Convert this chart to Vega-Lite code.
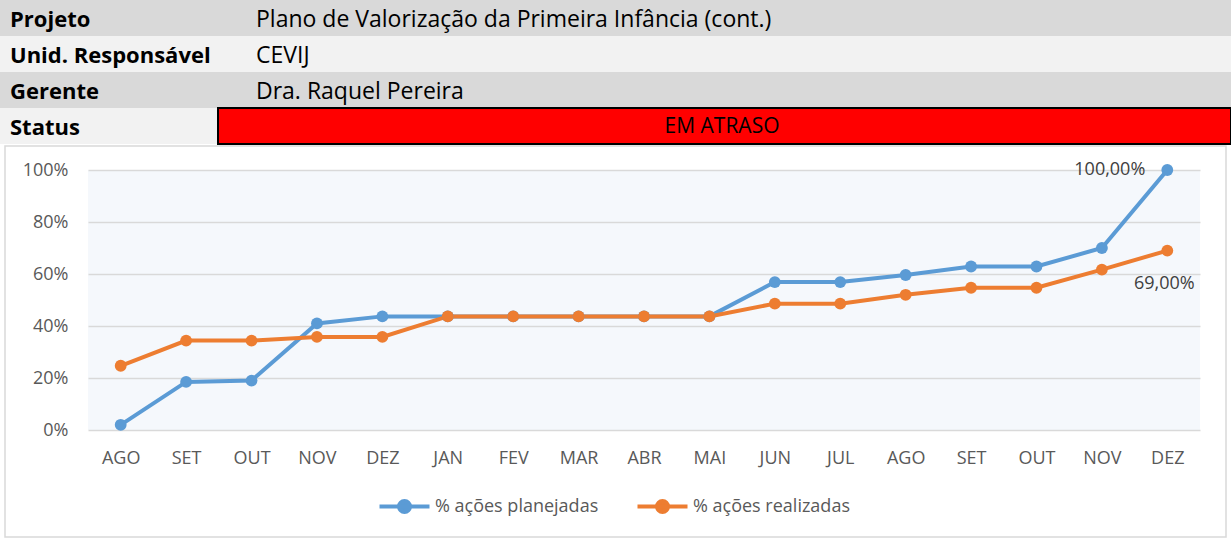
{
  "$schema": "https://vega.github.io/schema/vega-lite/v6.json",
  "padding": 0,
  "background": "white",
  "spacing": 0,
  "config": {
    "font": "Open Sans",
    "view": {"stroke": null},
    "locale": {"number": {"decimal": ",", "thousands": ".", "grouping": [3], "currency": ["R$ ", ""]}}
  },
  "datasets": {
    "info": [
      {"campo": "Projeto", "valor": "Plano de Valorização da Primeira Infância (cont.)"},
      {"campo": "Unid. Responsável", "valor": "CEVIJ"},
      {"campo": "Gerente", "valor": "Dra. Raquel Pereira"},
      {"campo": "Status", "valor": "EM ATRASO"}
    ],
    "series": [
      {"periodo": "2023-08", "serie": "% ações planejadas", "valor": 0.02},
      {"periodo": "2023-09", "serie": "% ações planejadas", "valor": 0.185},
      {"periodo": "2023-10", "serie": "% ações planejadas", "valor": 0.19},
      {"periodo": "2023-11", "serie": "% ações planejadas", "valor": 0.41},
      {"periodo": "2023-12", "serie": "% ações planejadas", "valor": 0.437},
      {"periodo": "2024-01", "serie": "% ações planejadas", "valor": 0.437},
      {"periodo": "2024-02", "serie": "% ações planejadas", "valor": 0.437},
      {"periodo": "2024-03", "serie": "% ações planejadas", "valor": 0.437},
      {"periodo": "2024-04", "serie": "% ações planejadas", "valor": 0.437},
      {"periodo": "2024-05", "serie": "% ações planejadas", "valor": 0.437},
      {"periodo": "2024-06", "serie": "% ações planejadas", "valor": 0.569},
      {"periodo": "2024-07", "serie": "% ações planejadas", "valor": 0.569},
      {"periodo": "2024-08", "serie": "% ações planejadas", "valor": 0.596},
      {"periodo": "2024-09", "serie": "% ações planejadas", "valor": 0.629},
      {"periodo": "2024-10", "serie": "% ações planejadas", "valor": 0.629},
      {"periodo": "2024-11", "serie": "% ações planejadas", "valor": 0.70},
      {"periodo": "2024-12", "serie": "% ações planejadas", "valor": 1.0},
      {"periodo": "2023-08", "serie": "% ações realizadas", "valor": 0.247},
      {"periodo": "2023-09", "serie": "% ações realizadas", "valor": 0.344},
      {"periodo": "2023-10", "serie": "% ações realizadas", "valor": 0.344},
      {"periodo": "2023-11", "serie": "% ações realizadas", "valor": 0.358},
      {"periodo": "2023-12", "serie": "% ações realizadas", "valor": 0.358},
      {"periodo": "2024-01", "serie": "% ações realizadas", "valor": 0.437},
      {"periodo": "2024-02", "serie": "% ações realizadas", "valor": 0.437},
      {"periodo": "2024-03", "serie": "% ações realizadas", "valor": 0.437},
      {"periodo": "2024-04", "serie": "% ações realizadas", "valor": 0.437},
      {"periodo": "2024-05", "serie": "% ações realizadas", "valor": 0.437},
      {"periodo": "2024-06", "serie": "% ações realizadas", "valor": 0.486},
      {"periodo": "2024-07", "serie": "% ações realizadas", "valor": 0.486},
      {"periodo": "2024-08", "serie": "% ações realizadas", "valor": 0.52},
      {"periodo": "2024-09", "serie": "% ações realizadas", "valor": 0.547},
      {"periodo": "2024-10", "serie": "% ações realizadas", "valor": 0.547},
      {"periodo": "2024-11", "serie": "% ações realizadas", "valor": 0.617},
      {"periodo": "2024-12", "serie": "% ações realizadas", "valor": 0.69}
    ]
  },
  "vconcat": [
    {
      "spacing": 0,
      "hconcat": [
        {
          "width": 129,
          "height": 144,
          "data": {"name": "info"},
          "encoding": {
            "y": {"field": "campo", "type": "nominal", "sort": null, "axis": null, "scale": {"paddingInner": 0, "paddingOuter": 0}}
          },
          "layer": [
            {
              "mark": {"type": "rect", "x": -88, "x2": "width"},
              "encoding": {
                "fill": {"condition": {"test": "datum.campo === 'Projeto' || datum.campo === 'Gerente'", "value": "#d9d9d9"}, "value": "#f2f2f2"}
              }
            },
            {
              "mark": {"type": "text", "align": "left", "baseline": "middle", "x": -88, "dx": 10, "dy": 2, "fontSize": 22, "fontWeight": "bold", "color": "#000000"},
              "encoding": {"text": {"field": "campo"}}
            }
          ]
        },
        {
          "width": 1014,
          "height": 144,
          "data": {"name": "info"},
          "encoding": {
            "y": {"field": "campo", "type": "nominal", "sort": null, "axis": null, "scale": {"paddingInner": 0, "paddingOuter": 0}}
          },
          "layer": [
            {
              "mark": {"type": "rect", "x": 0, "x2": "width"},
              "encoding": {
                "fill": {"condition": {"test": "datum.campo === 'Projeto' || datum.campo === 'Gerente'", "value": "#d9d9d9"}, "value": "#f2f2f2"}
              }
            },
            {
              "transform": [{"filter": "datum.campo === 'Status'"}],
              "mark": {"type": "rect", "x": 1, "x2": "width", "x2Offset": -3, "fill": "#ff0000", "stroke": "#000000", "strokeWidth": 2}
            },
            {
              "transform": [{"filter": "datum.campo !== 'Status'"}],
              "mark": {"type": "text", "align": "left", "baseline": "middle", "x": 0, "dx": 39, "dy": 2, "fontSize": 23, "color": "#000000"},
              "encoding": {"text": {"field": "valor"}}
            },
            {
              "transform": [{"filter": "datum.campo === 'Status'"}],
              "mark": {"type": "text", "align": "center", "baseline": "middle", "dx": -2, "dy": 1, "fontSize": 21, "color": "#000000"},
              "encoding": {"text": {"field": "valor"}}
            }
          ]
        }
      ]
    },
    {
      "width": 1112,
      "height": 260,
      "view": {"fill": "#f5f8fc", "stroke": null},
      "layer": [
        {
          "data": {"values": [{"moldura": "grafico"}]},
          "mark": {"type": "rect", "x": -83, "x2": 1138, "y": -24, "y2": 367, "fill": null, "stroke": "#d9d9d9", "strokeWidth": 1.5},
          "encoding": {}
        },
        {
          "data": {"name": "series"},
          "encoding": {
            "x": {
              "field": "periodo", "type": "ordinal", "sort": null,
              "scale": {"type": "point", "padding": 0.5},
              "axis": {
                "title": null,
                "labelExpr": "['JAN','FEV','MAR','ABR','MAI','JUN','JUL','AGO','SET','OUT','NOV','DEZ'][toNumber(slice(datum.value, 5, 7)) - 1]",
                "domain": false, "ticks": false, "grid": false,
                "labelAngle": 0, "labelPadding": 19, "labelFontSize": 18, "labelColor": "#595959"
              }
            },
            "y": {
              "field": "valor", "type": "quantitative",
              "scale": {"domain": [0, 1], "nice": false},
              "axis": {
                "title": null, "format": ".0%", "values": [0, 0.2, 0.4, 0.6, 0.8, 1],
                "domain": false, "ticks": false,
                "labelPadding": 20, "labelFontSize": 18, "labelColor": "#595959",
                "gridColor": "#d9d9d9", "gridWidth": 1.5,
                "minExtent": 88, "maxExtent": 88
              }
            },
            "color": {
              "field": "serie", "type": "nominal", "sort": null,
              "scale": {"domain": ["% ações planejadas", "% ações realizadas"], "range": ["#5b9bd5", "#ed7d31"]},
              "legend": {
                "title": null, "orient": "none", "direction": "horizontal",
                "legendX": 302, "legendY": 492,
                "labelFontSize": 18, "labelColor": "#595959", "labelLimit": 400,
                "symbolType": "M -2 0 L 2 0 M 0.44 0 A 0.44 0.44 0 1 1 -0.44 0 A 0.44 0.44 0 1 1 0.44 0 Z",
                "symbolSize": 625, "symbolStrokeWidth": 4, "symbolOpacity": 1,
                "labelOffset": 16, "columnPadding": 30
              }
            }
          },
          "layer": [
            {"mark": {"type": "line", "strokeWidth": 4}},
            {"mark": {"type": "point", "filled": true, "size": 140, "opacity": 1}},
            {
              "transform": [{"filter": "datum.serie === '% ações planejadas' && datum.periodo === '2024-12'"}],
              "mark": {"type": "text", "align": "right", "baseline": "middle", "dx": -22, "fontSize": 18},
              "encoding": {"text": {"field": "valor", "format": ".2%"}, "color": {"value": "#404040"}}
            },
            {
              "transform": [{"filter": "datum.serie === '% ações realizadas' && datum.periodo === '2024-12'"}],
              "mark": {"type": "text", "align": "center", "baseline": "middle", "dy": 33, "dx": -3, "fontSize": 18},
              "encoding": {"text": {"field": "valor", "format": ".2%"}, "color": {"value": "#404040"}}
            }
          ]
        }
      ]
    }
  ]
}
